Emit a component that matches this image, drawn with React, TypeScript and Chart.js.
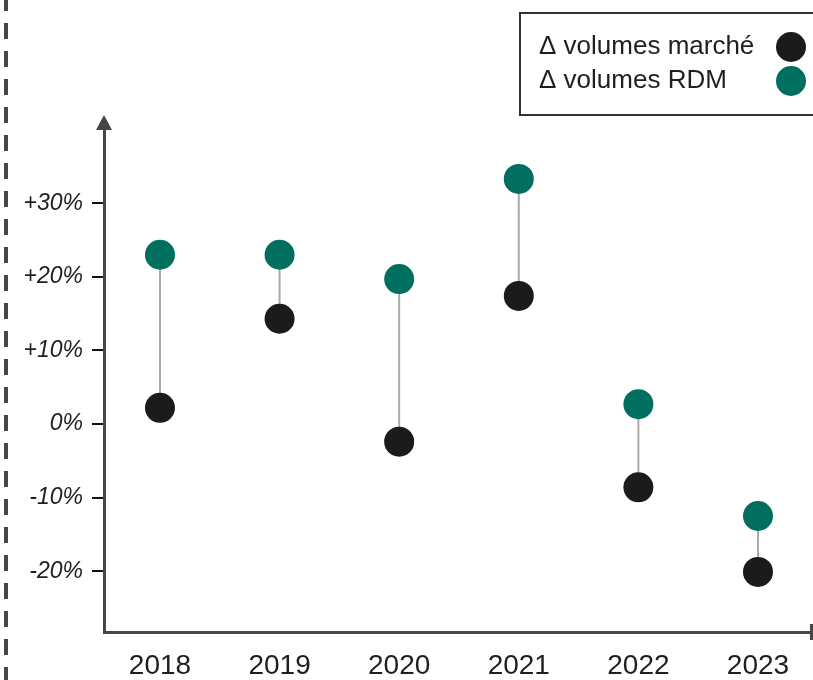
import React, { useEffect, useRef } from 'react';
import { Chart, registerables } from 'chart.js';

Chart.register(...registerables);

const years = ['2018', '2019', '2020', '2021', '2022', '2023'];
const volumesMarche = [2.2, 14.3, -2.4, 17.4, -8.6, -20.1];
const volumesRDM = [23.0, 23.0, 19.7, 33.3, 2.7, -12.5];
const yTickValues = [-20, -10, 0, 10, 20, 30];
const seriesLabels = ['Δ volumes marché', 'Δ volumes RDM'];

const FONT = "'Liberation Sans', Arial, sans-serif";
const AXIS = '#474747';
const TEXT = '#1f1f1f';
const BLACK = '#1b1b1b';
const GREEN = '#006f5f';
const CONNECTOR = '#a9a9a9';

const framePlugin = {
  id: 'frame',
  beforeDraw(chart: any) {
    const ctx = chart.ctx;
    ctx.save();
    ctx.fillStyle = '#ffffff';
    ctx.fillRect(0, 0, chart.width, chart.height);
    ctx.strokeStyle = AXIS;
    ctx.lineWidth = 4;
    ctx.setLineDash([16, 12]);
    ctx.lineDashOffset = 5;
    ctx.beginPath();
    ctx.moveTo(6, 0);
    ctx.lineTo(6, chart.height);
    ctx.stroke();
    ctx.restore();
  },
};

const connectorPlugin = {
  id: 'connectors',
  beforeDatasetsDraw(chart: any) {
    const ctx = chart.ctx;
    const xs = chart.scales.x;
    const ys = chart.scales.y;
    const a = chart.data.datasets[0].data;
    const b = chart.data.datasets[1].data;
    ctx.save();
    ctx.strokeStyle = CONNECTOR;
    ctx.lineWidth = 2;
    for (let i = 0; i < a.length; i++) {
      const x = xs.getPixelForValue(a[i].x);
      ctx.beginPath();
      ctx.moveTo(x, ys.getPixelForValue(a[i].y));
      ctx.lineTo(x, ys.getPixelForValue(b[i].y));
      ctx.stroke();
    }
    ctx.restore();
  },
};

const decorPlugin = {
  id: 'decor',
  afterDraw(chart: any) {
    const ctx = chart.ctx;
    const area = chart.chartArea;
    ctx.save();
    ctx.fillStyle = AXIS;
    ctx.beginPath();
    ctx.moveTo(area.left, area.top - 13);
    ctx.lineTo(area.left - 8, area.top + 2);
    ctx.lineTo(area.left + 8, area.top + 2);
    ctx.closePath();
    ctx.fill();
    ctx.strokeStyle = AXIS;
    ctx.lineWidth = 3;
    ctx.beginPath();
    ctx.moveTo(area.right - 1.5, area.bottom - 8);
    ctx.lineTo(area.right - 1.5, area.bottom + 8);
    ctx.stroke();

    ctx.strokeStyle = '#333333';
    ctx.lineWidth = 2;
    ctx.strokeRect(520, 13, 330, 102);
    const rows = [47, 81];
    ctx.font = `26px ${FONT}`;
    ctx.textBaseline = 'middle';
    ctx.textAlign = 'left';
    chart.data.datasets.forEach((ds: any, i: number) => {
      ctx.fillStyle = TEXT;
      ctx.fillText(ds.label, 539, rows[i]);
      ctx.fillStyle = ds.backgroundColor;
      ctx.beginPath();
      ctx.arc(791, rows[i], 15, 0, Math.PI * 2);
      ctx.fill();
    });
    ctx.restore();
  },
};

export default function App() {
  const ref = useRef<HTMLCanvasElement | null>(null);

  useEffect(() => {
    if (!ref.current) return;
    const chart = new Chart(ref.current, {
      type: 'scatter',
      data: {
        datasets: [
          {
            label: seriesLabels[0],
            data: years.map((_, i) => ({ x: i, y: volumesMarche[i] })),
            backgroundColor: BLACK,
            borderColor: BLACK,
            pointRadius: 15,
            pointHoverRadius: 15,
            pointBorderWidth: 0,
          },
          {
            label: seriesLabels[1],
            data: years.map((_, i) => ({ x: i, y: volumesRDM[i] })),
            backgroundColor: GREEN,
            borderColor: GREEN,
            pointRadius: 15,
            pointHoverRadius: 15,
            pointBorderWidth: 0,
          },
        ],
      },
      options: {
        responsive: false,
        animation: false,
        devicePixelRatio: 1,
        layout: { autoPadding: false, padding: { top: 128, left: 0, right: 0, bottom: 0 } },
        plugins: {
          legend: { display: false },
          tooltip: { enabled: false },
        },
        scales: {
          x: {
            type: 'linear',
            bounds: 'data',
            min: -0.468,
            max: 5.46,
            afterBuildTicks: (s: any) => {
              s.ticks = years.map((_, i) => ({ value: i }));
            },
            afterFit: (s: any) => {
              s.height = 48;
            },
            grid: { display: false, drawTicks: false },
            border: { display: true, color: AXIS, width: 3 },
            ticks: {
              autoSkip: false,
              maxRotation: 0,
              padding: 17,
              color: TEXT,
              font: { family: FONT, size: 28 },
              callback: (v: any) => years[Math.round(Number(v))],
            },
          },
          y: {
            type: 'linear',
            bounds: 'data',
            min: -28.26,
            max: 40.22,
            afterBuildTicks: (s: any) => {
              s.ticks = yTickValues.map((v) => ({ value: v }));
            },
            afterFit: (s: any) => {
              s.width = 104;
            },
            grid: {
              display: true,
              drawOnChartArea: false,
              drawTicks: true,
              tickLength: 12,
              color: '#111111',
              lineWidth: 2,
            },
            border: { display: true, color: AXIS, width: 3 },
            ticks: {
              padding: 9,
              color: TEXT,
              font: { family: FONT, size: 23, style: 'italic' },
              callback: (v: any) => (Number(v) > 0 ? `+${v}%` : `${v}%`),
            },
          },
        },
      } as any,
      plugins: [framePlugin, connectorPlugin, decorPlugin],
    });
    return () => chart.destroy();
  }, []);

  return (
    <div style={{ position: 'fixed', left: 0, top: 0, width: 813, height: 680, background: '#fff' }}>
      <canvas ref={ref} width={813} height={680} style={{ display: 'block' }} />
    </div>
  );
}
